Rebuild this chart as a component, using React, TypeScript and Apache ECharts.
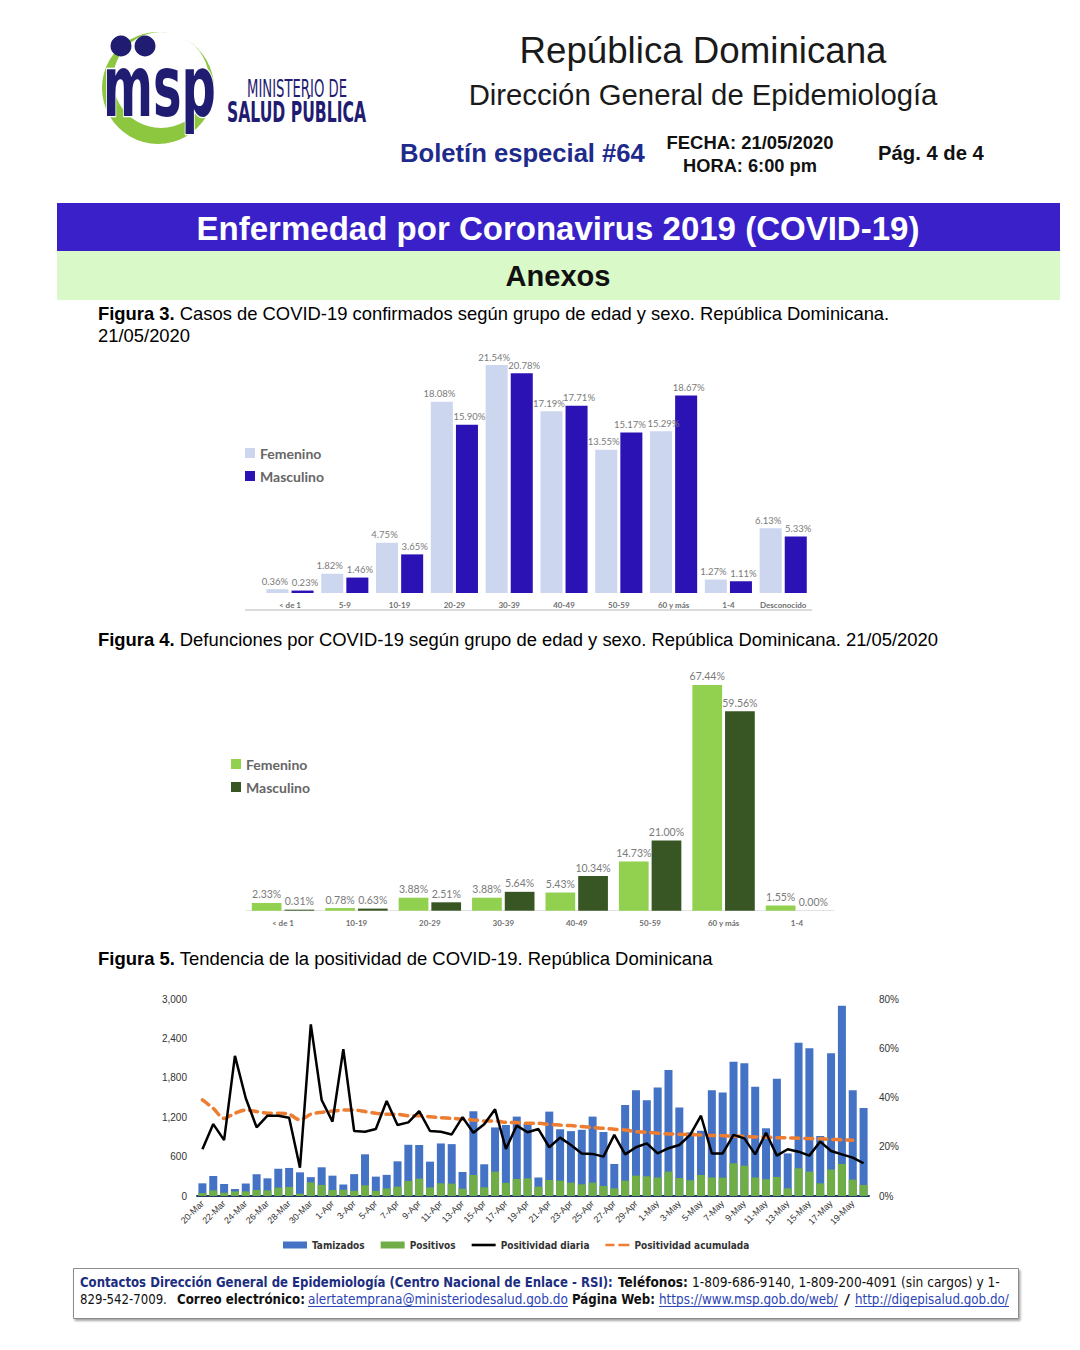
import React, { useEffect, useRef } from "react";
import * as echarts from "echarts";

// ---------- Figura 3 ----------
const ageGroups3 = ["< de 1", "5-9", "10-19", "20-29", "30-39", "40-49", "50-59", "60 y más", "1-4", "Desconocido"];
const casosFemenino = [0.36, 1.82, 4.75, 18.08, 21.54, 17.19, 13.55, 15.29, 1.27, 6.13];
const casosMasculino = [0.23, 1.46, 3.65, 15.9, 20.78, 17.71, 15.17, 18.67, 1.11, 5.33];

// ---------- Figura 4 ----------
const ageGroups4 = ["< de 1", "10-19", "20-29", "30-39", "40-49", "50-59", "60 y más", "1-4"];
const defFemenino = [2.33, 0.78, 3.88, 3.88, 5.43, 14.73, 67.44, 1.55];
const defMasculino = [0.31, 0.63, 2.51, 5.64, 10.34, 21.0, 59.56, 0.0];

// ---------- Figura 5 ----------
const fechas = [
  "20-Mar", "21-Mar", "22-Mar", "23-Mar", "24-Mar", "25-Mar", "26-Mar", "27-Mar", "28-Mar", "29-Mar", "30-Mar", "31-Mar",
  "1-Apr", "2-Apr", "3-Apr", "4-Apr", "5-Apr", "6-Apr", "7-Apr", "8-Apr", "9-Apr", "10-Apr", "11-Apr", "12-Apr", "13-Apr",
  "14-Apr", "15-Apr", "16-Apr", "17-Apr", "18-Apr", "19-Apr", "20-Apr", "21-Apr", "22-Apr", "23-Apr", "24-Apr", "25-Apr",
  "26-Apr", "27-Apr", "28-Apr", "29-Apr", "30-Apr",
  "1-May", "2-May", "3-May", "4-May", "5-May", "6-May", "7-May", "8-May", "9-May", "10-May", "11-May", "12-May", "13-May",
  "14-May", "15-May", "16-May", "17-May", "18-May", "19-May", "20-May",
];
const tamizados = [
  193, 305, 183, 107, 190, 333, 269, 415, 427, 360,
  287, 437, 310, 175, 333, 635, 295, 322, 528, 780,
  777, 523, 800, 790, 366, 1290, 483, 1044, 1082, 1209,
  1100, 282, 1285, 1016, 988, 1008, 1209, 975, 488, 1387,
  1610, 1460, 1653, 1918, 1348, 968, 993, 1612, 1578, 2045,
  2020, 1663, 1031, 1785, 648, 2332, 2250, 914, 2174, 2896,
  1612, 1341,
];
const positivos = [
  45, 85, 50, 70, 70, 91, 85, 127, 137, 35,
  208, 168, 91, 95, 80, 163, 78, 115, 142, 229,
  264, 130, 193, 188, 112, 320, 132, 371, 200, 260,
  269, 142, 244, 234, 203, 178, 203, 152, 117, 234,
  310, 300, 282, 371, 274, 240, 320, 282, 279, 498,
  462, 282, 256, 290, 117, 422, 371, 193, 403, 488,
  250, 168,
];
const positividadDiaria = [
  19.0, 29.2, 22.7, 56.9, 39.7, 27.9, 32.6, 32.6, 31.8, 11.5,
  69.7, 39.0, 30.2, 59.6, 26.4, 26.1, 27.2, 38.6, 28.8, 29.9,
  34.5, 26.4, 26.1, 25.0, 32.0, 25.7, 29.1, 35.2, 19.1, 28.6,
  25.9, 27.2, 19.8, 23.7, 20.7, 17.3, 17.1, 16.0, 24.8, 16.9,
  19.8, 21.4, 17.3, 19.4, 20.7, 24.8, 32.6, 17.3, 17.3, 24.8,
  23.4, 16.9, 25.7, 16.4, 19.0, 18.0, 16.4, 22.1, 18.3, 16.9,
  15.6, 13.3,
];
const positividadAcumulada = [
  39.0, 35.6, 31.5, 33.6, 34.9, 34.3, 33.6, 33.6, 33.2, 30.9,
  33.2, 34.0, 34.5, 34.9, 34.9, 34.3, 33.6, 33.2, 33.2, 32.6,
  32.6, 32.2, 31.8, 31.5, 31.3, 30.9, 30.5, 30.5, 29.9, 29.8,
  29.5, 29.5, 29.1, 28.8, 28.6, 28.2, 27.8, 27.5, 27.1, 26.8,
  26.1, 25.9, 25.5, 25.2, 25.1, 24.9, 24.8, 24.6, 24.5, 24.3,
  24.2, 24.0, 23.9, 23.7, 23.6, 23.5, 23.3, 23.2, 23.0, 22.8,
  22.6, null,
];
const leftTicks = [0, 600, 1200, 1800, 2400, 3000];
const rightTicks = [0, 20, 40, 60, 80];

const ARIAL = '"Liberation Sans", Arial, sans-serif';
const NARROW = '"Liberation Sans Narrow", "DejaVu Sans Condensed", sans-serif';
const COND = '"DejaVu Sans Condensed", "DejaVu Sans", sans-serif';
const CAL = 'Lato, "Open Sans", sans-serif';

let measureCtx: CanvasRenderingContext2D | null = null;
function textW(text: string, size: number, family: string, weight = "normal") {
  if (!measureCtx) measureCtx = document.createElement("canvas").getContext("2d");
  if (!measureCtx) return text.length * size * 0.5;
  measureCtx.font = `${weight} ${size}px ${family}`;
  return measureCtx.measureText(text).width;
}
function fitSize(parts: Array<[string, string]>, family: string, target: number) {
  const w = parts.reduce((s, [t, wt]) => s + textW(t, 100, family, wt), 0);
  return (100 * target) / w;
}

function txt(x: number, y: number, text: string, o: any) {
  const size = o.size ?? fitSize([[text, o.weight || "normal"]], o.family, o.target);
  let scaleX = 1;
  if (o.size && o.target) scaleX = o.target / textW(text, o.size, o.family, o.weight || "normal");
  return {
    type: "text",
    x,
    y,
    scaleX,
    scaleY: o.scaleY ?? 1,
    silent: true,
    z: 10,
    style: {
      text,
      fill: o.color || "#000",
      fontSize: size,
      fontFamily: o.family,
      fontWeight: o.weight || "normal",
      textAlign: o.align || "left",
      textVerticalAlign: "middle",
      verticalAlign: "middle",
      stroke: o.stroke,
      lineWidth: o.lineWidth,
    },
  };
}

function caption(x: number, y: number, bold: string, rest: string, target: number) {
  const size = fitSize([[bold, "bold"], [rest, "normal"]], ARIAL, target);
  return {
    type: "text",
    x,
    y,
    silent: true,
    style: {
      text: `{b|${bold}}{r|${rest}}`,
      fontSize: size,
      fontFamily: ARIAL,
      fill: "#000",
      textAlign: "left",
      textVerticalAlign: "middle",
      verticalAlign: "middle",
      rich: {
        b: { fontWeight: "bold", fontSize: size, fontFamily: ARIAL, fill: "#000" },
        r: { fontWeight: "normal", fontSize: size, fontFamily: ARIAL, fill: "#000" },
      },
    },
    _size: size,
  } as any;
}

function buildOption() {
  const navy = "#1f1c72";
  const cap3 = caption(98, 313, "Figura 3.", " Casos de COVID-19 confirmados según grupo de edad y sexo. República Dominicana.", 792);
  const footerSize = 14;
  const foot = (x: number, y: number, t: string, w: number, color: string, weight = "normal") =>
    txt(x, y, t, { size: footerSize, target: w, family: NARROW, weight, color });

  const graphic: any[] = [
    // logo
    { type: "circle", shape: { cx: 158, cy: 88, r: 56 }, style: { fill: "#8dc63f" }, silent: true },
    { type: "circle", shape: { cx: 161, cy: 80, r: 48 }, style: { fill: "#ffffff" }, silent: true },
    txt(103, 86, "msp", { size: 50, target: 113, scaleY: 1.7, family: '"DejaVu Sans", sans-serif', weight: "bold", color: navy, stroke: "#ffffff", lineWidth: 1.5 }),
    { type: "circle", shape: { cx: 121, cy: 46, r: 10.5 }, style: { fill: navy }, silent: true, z: 11 },
    { type: "circle", shape: { cx: 145, cy: 46, r: 10.5 }, style: { fill: navy }, silent: true, z: 11 },
    txt(247, 89, "MINISTERIO DE", { size: 24, target: 100, family: COND, color: navy }),
    txt(227, 112, "SALUD PÚBLICA", { size: 28, target: 139, family: COND, weight: "bold", color: navy }),
    // header
    txt(703, 50, "República Dominicana", { target: 367, family: ARIAL, align: "center", color: "#1a1a1a" }),
    txt(703, 94, "Dirección General de Epidemiología", { target: 469, family: ARIAL, align: "center", color: "#1a1a1a" }),
    txt(400, 153, "Boletín especial #64", { target: 245, family: ARIAL, weight: "bold", color: "#1e2b8c" }),
    txt(750, 142, "FECHA: 21/05/2020", { target: 167, family: ARIAL, weight: "bold", align: "center", color: "#111" }),
    txt(750, 165, "HORA: 6:00 pm", { target: 134, family: ARIAL, weight: "bold", align: "center", color: "#111" }),
    txt(878, 153, "Pág. 4 de 4", { target: 106, family: ARIAL, weight: "bold", color: "#111" }),
    // banners
    { type: "rect", shape: { x: 57, y: 203, width: 1003, height: 48 }, style: { fill: "#3a20c8" }, silent: true },
    txt(558, 228, "Enfermedad por Coronavirus 2019 (COVID-19)", { target: 723, family: ARIAL, weight: "bold", align: "center", color: "#ffffff" }),
    { type: "rect", shape: { x: 57, y: 251, width: 1003, height: 49 }, style: { fill: "#d9f9c8" }, silent: true },
    txt(558, 276, "Anexos", { target: 105, family: ARIAL, weight: "bold", align: "center", color: "#111" }),
    // captions
    cap3,
    txt(98, 335, "21/05/2020", { size: cap3._size, family: ARIAL, color: "#000" }),
    caption(98, 639, "Figura 4.", " Defunciones por COVID-19 según grupo de edad y sexo. República Dominicana. 21/05/2020", 841),
    caption(98, 958, "Figura 5.", " Tendencia de la positividad de COVID-19. República Dominicana", 615),
    // fig 3 bottom rule
    { type: "line", shape: { x1: 245, y1: 610, x2: 812, y2: 610 }, style: { stroke: "#cfcfcf", lineWidth: 1.5 }, silent: true },
    // footer
    {
      type: "rect",
      shape: { x: 73.5, y: 1268.5, width: 945, height: 50 },
      style: { fill: "#ffffff", stroke: "#8c8c8c", lineWidth: 1, shadowBlur: 2, shadowOffsetX: 1.5, shadowOffsetY: 2, shadowColor: "rgba(0,0,0,0.35)" },
      silent: true,
    },
    foot(80, 1282, "Contactos Dirección General de Epidemiología (Centro Nacional de Enlace - RSI):", 533, "#1c2e80", "bold"),
    foot(618, 1282, "Teléfonos:", 70, "#111", "bold"),
    foot(692, 1282, "1-809-686-9140, 1-809-200-4091 (sin cargos) y 1-", 308, "#111"),
    foot(80, 1299, "829-542-7009.", 87, "#111"),
    foot(177, 1299, "Correo electrónico:", 128, "#111", "bold"),
    foot(308, 1299, "alertatemprana@ministeriodesalud.gob.do", 260, "#2b44b5"),
    foot(572, 1299, "Página Web:", 83, "#111", "bold"),
    foot(659, 1299, "https://www.msp.gob.do/web/", 179, "#2b44b5"),
    foot(844, 1299, "/", 6, "#111"),
    foot(855, 1299, "http://digepisalud.gob.do/", 154, "#2b44b5"),
    { type: "line", shape: { x1: 308, y1: 1306.5, x2: 568, y2: 1306.5 }, style: { stroke: "#2b44b5", lineWidth: 1 }, silent: true },
    { type: "line", shape: { x1: 659, y1: 1306.5, x2: 838, y2: 1306.5 }, style: { stroke: "#2b44b5", lineWidth: 1 }, silent: true },
    { type: "line", shape: { x1: 855, y1: 1306.5, x2: 1009, y2: 1306.5 }, style: { stroke: "#2b44b5", lineWidth: 1 }, silent: true },
  ];

  const pctLabel = (size: number, dx: number) => ({
    show: true,
    position: "top",
    distance: 3,
    offset: [dx, 0],
    fontSize: size,
    color: "#7a7a7a",
    fontFamily: CAL,
    formatter: (p: any) => Number(p.value).toFixed(2) + "%",
  });
  // nudge a couple of labels apart where neighbouring bars have nearly equal heights
  const withOffsets = (vals: number[], base: number, special: Record<number, number>) =>
    vals.map((v, i) => (i in special ? { value: v, label: { offset: [special[i], 0] } } : { value: v, label: { offset: [base, 0] } }));
  const catLabel = { interval: 0, fontSize: 8, color: "#6f6f6f", fontWeight: "bold", fontFamily: CAL, margin: 8 };
  const legendText = { fontSize: 14, color: "#666666", fontWeight: "bold", fontFamily: CAL, lineHeight: 16 };

  return {
    animation: false,
    backgroundColor: "#ffffff",
    graphic,
    legend: [
      {
        orient: "vertical",
        left: 245,
        top: 445,
        itemWidth: 10,
        itemHeight: 10,
        itemGap: 7,
        padding: 0,
        icon: "rect",
        textStyle: legendText,
        data: [
          { name: "Femenino", itemStyle: { color: "#cdd6ef" } },
          { name: "Masculino", itemStyle: { color: "#2b12b5" } },
        ],
        selectedMode: false,
      },
      {
        orient: "vertical",
        left: 231,
        top: 756,
        itemWidth: 10,
        itemHeight: 10,
        itemGap: 7,
        padding: 0,
        icon: "rect",
        textStyle: legendText,
        data: [
          { name: "Femenino", itemStyle: { color: "#92d050" } },
          { name: "Masculino", itemStyle: { color: "#375623" } },
        ],
        selectedMode: false,
      },
      {
        orient: "horizontal",
        left: 283,
        top: 1240,
        itemWidth: 24,
        itemHeight: 7,
        itemGap: 16,
        padding: 0,
        textStyle: { fontSize: 10, color: "#333", fontWeight: "bold", fontFamily: COND },
        data: [
          { name: "Tamizados", icon: "rect" },
          { name: "Positivos", icon: "rect" },
          { name: "Positividad diaria", icon: "path://M0,0h24v2.6h-24z" },
          { name: "Positividad acumulada", icon: "path://M0,0h9v2.6h-9zM13,0h11v2.6h-11z" },
        ],
        selectedMode: false,
      },
    ],
    grid: [
      { left: 262.6, top: 328.5, width: 548, height: 264.5 },
      { left: 246.3, top: 676.4, width: 587.4, height: 234.3 },
      { left: 197, top: 999, width: 672, height: 197 },
    ],
    xAxis: [
      { type: "category", gridIndex: 0, data: ageGroups3, axisLine: { show: false }, axisTick: { show: false }, axisLabel: catLabel },
      {
        type: "category",
        gridIndex: 1,
        data: ageGroups4,
        axisLine: { show: true, lineStyle: { color: "#e3e3e3", width: 1 } },
        axisTick: { show: false },
        axisLabel: catLabel,
      },
      {
        type: "category",
        gridIndex: 2,
        data: fechas,
        axisLine: { show: true, lineStyle: { color: "#1f3864", width: 2 } },
        axisTick: { show: false },
        axisLabel: { rotate: 45, interval: 1, fontSize: 9, color: "#333", fontFamily: ARIAL, margin: 6 },
      },
    ],
    yAxis: [
      { type: "value", gridIndex: 0, min: 0, max: 25, show: false },
      { type: "value", gridIndex: 1, min: 0, max: 70, show: false },
      {
        type: "value",
        gridIndex: 2,
        min: leftTicks[0],
        max: leftTicks[leftTicks.length - 1],
        interval: 600,
        position: "left",
        axisLine: { show: false },
        axisTick: { show: false },
        splitLine: { show: false },
        axisLabel: {
          fontSize: 10,
          color: "#333",
          fontFamily: ARIAL,
          margin: 10,
          formatter: (v: number) => v.toLocaleString("en-US"),
        },
      },
      {
        type: "value",
        gridIndex: 2,
        min: rightTicks[0],
        max: rightTicks[rightTicks.length - 1],
        interval: 20,
        position: "right",
        axisLine: { show: false },
        axisTick: { show: false },
        splitLine: { show: false },
        axisLabel: { fontSize: 10, color: "#333", fontFamily: ARIAL, margin: 10, formatter: "{value}%" },
      },
    ],
    series: [
      {
        name: "Femenino",
        type: "bar",
        xAxisIndex: 0,
        yAxisIndex: 0,
        data: withOffsets(casosFemenino, -2.5, { 7: 2.5 }),
        itemStyle: { color: "#cdd6ef" },
        barGap: "14%",
        barCategoryGap: "14%",
        label: pctLabel(9.5, -2.5),
      },
      {
        name: "Masculino",
        type: "bar",
        xAxisIndex: 0,
        yAxisIndex: 0,
        data: withOffsets(casosMasculino, 2.5, { 6: -1.5 }),
        itemStyle: { color: "#2b12b5" },
        barGap: "14%",
        barCategoryGap: "14%",
        label: pctLabel(9.5, 2.5),
      },
      {
        name: "Femenino",
        type: "bar",
        xAxisIndex: 1,
        yAxisIndex: 1,
        data: defFemenino,
        itemStyle: { color: "#92d050" },
        barGap: "10%",
        barCategoryGap: "15%",
        label: pctLabel(10.5, 0),
      },
      {
        name: "Masculino",
        type: "bar",
        xAxisIndex: 1,
        yAxisIndex: 1,
        data: defMasculino,
        itemStyle: { color: "#375623" },
        barGap: "10%",
        barCategoryGap: "15%",
        label: pctLabel(10.5, 0),
      },
      {
        name: "Tamizados",
        type: "bar",
        xAxisIndex: 2,
        yAxisIndex: 2,
        data: tamizados,
        itemStyle: { color: "#4472c4" },
        barWidth: 8,
        barGap: "-100%",
      },
      {
        name: "Positivos",
        type: "bar",
        xAxisIndex: 2,
        yAxisIndex: 2,
        data: positivos,
        itemStyle: { color: "#70ad47" },
        barWidth: 8,
        barGap: "-100%",
      },
      {
        name: "Positividad diaria",
        type: "line",
        xAxisIndex: 2,
        yAxisIndex: 3,
        data: positividadDiaria,
        symbol: "none",
        lineStyle: { color: "#000000", width: 2.5 },
        itemStyle: { color: "#000000" },
        z: 5,
      },
      {
        name: "Positividad acumulada",
        type: "line",
        xAxisIndex: 2,
        yAxisIndex: 3,
        data: positividadAcumulada,
        symbol: "none",
        smooth: 0.3,
        lineStyle: { color: "#ed7d31", width: 3.5, type: [8, 6], cap: "round" },
        itemStyle: { color: "#ed7d31" },
        z: 4,
      },
    ],
  };
}

export default function App() {
  const ref = useRef<HTMLDivElement>(null);
  useEffect(() => {
    document.body.style.margin = "0";
    if (!ref.current) return;
    const chart = echarts.init(ref.current, null, { renderer: "svg" });
    chart.setOption(buildOption() as any);
    return () => chart.dispose();
  }, []);
  return (
    <div
      ref={ref}
      style={{ position: "absolute", left: 0, top: 0, width: 1080, height: 1350, background: "#fff" }}
    />
  );
}
